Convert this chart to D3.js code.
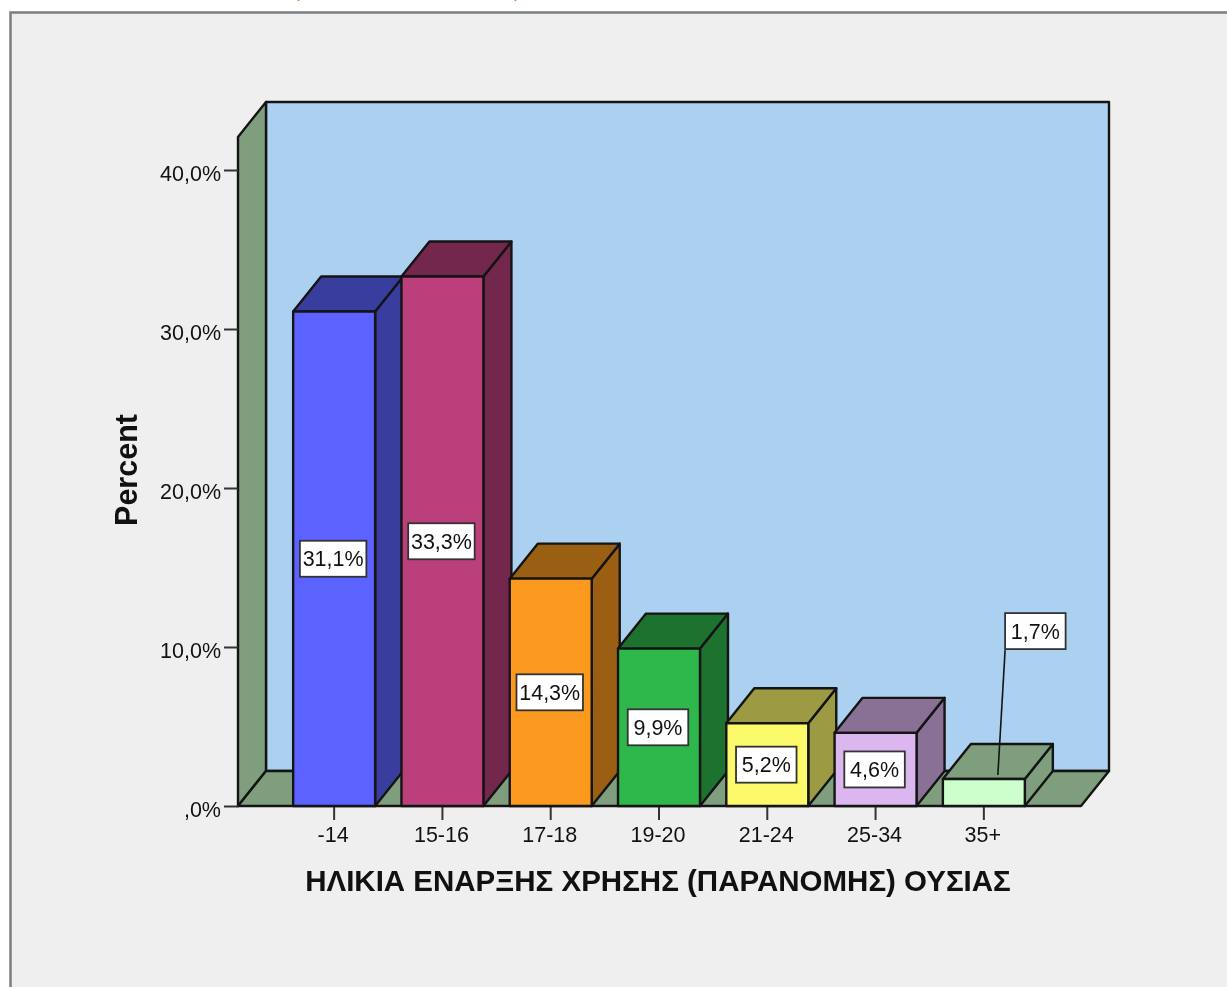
<!DOCTYPE html>
<html>
<head>
<meta charset="utf-8">
<script src="https://cdn.jsdelivr.net/npm/d3@7"></script>
<style>
  html, body { margin: 0; padding: 0; background: #fff; overflow: hidden; }
  svg { filter: blur(0.4px); }
  text { font-family: "Liberation Sans", Arial, sans-serif; fill: #111; }
</style>
</head>
<body>
<div id="chart"></div>
<script>
const categories = ["-14", "15-16", "17-18", "19-20", "21-24", "25-34", "35+"];
const percents = [31.1, 33.3, 14.3, 9.9, 5.2, 4.6, 1.7];
const percentLabels = ["31,1%", "33,3%", "14,3%", "9,9%", "5,2%", "4,6%", "1,7%"];
const frontColors = ["#5c62ff", "#bb3f7b", "#fa991e", "#2eb84c", "#fcf96b", "#dcb6ef", "#ccffcc"];
const yTicks = [0, 10, 20, 30, 40];
const yTickLabels = [",0%", "10,0%", "20,0%", "30,0%", "40,0%"];
const xTitle = "ΗΛΙΚΙΑ ΕΝΑΡΞΗΣ ΧΡΗΣΗΣ (ΠΑΡΑΝΟΜΗΣ) ΟΥΣΙΑΣ";
const yTitle = "Percent";

const width = 1227, height = 987;
// oblique offset of the 3d box
const depthX = 28, depthY = -35;
const axisMax = 42.08;
const lineColor = "#141414";

const x = d3.scaleBand().domain(categories).range([280, 1038]).paddingInner(0.243).paddingOuter(0.1215);
const y = d3.scaleLinear().domain([0, 40]).range([806, 170]);

const svg = d3.select("#chart").append("svg").attr("width", width).attr("height", height);

// shaded faces are the front colour at 62%
function shade(c) {
  const r = d3.rgb(c);
  return d3.rgb(r.r * 0.62, r.g * 0.62, r.b * 0.62).formatHex();
}
function face(g, pts, fill) {
  return g.append("polygon")
    .attr("points", pts.map(p => p.join(",")).join(" "))
    .attr("fill", fill)
    .attr("stroke", lineColor)
    .attr("stroke-width", 2.4)
    .attr("stroke-linejoin", "round");
}

// chart frame, runs off the page on the right and bottom
svg.append("rect").attr("x", 10.5).attr("y", 12.5).attr("width", 1300).attr("height", 1100)
  .attr("fill", "#efefef").attr("stroke", "#7d7d7d").attr("stroke-width", 2.5);

// bit of the title cut off by the top of the image
svg.append("text").attr("x", 293).attr("y", -3).attr("font-size", 21).style("fill", "#f07a28").text("(");
svg.append("text").attr("x", 514).attr("y", -3).attr("font-size", 21).style("fill", "#f07a28").text(")");

const x0 = 238, x1 = 1081;
const walls = svg.append("g");
const wallTop = y(axisMax), base = y(0);
face(walls, [[x0 + depthX, wallTop + depthY], [x1 + depthX, wallTop + depthY], [x1 + depthX, base + depthY], [x0 + depthX, base + depthY]], "#acd0ef");
face(walls, [[x0, wallTop], [x0 + depthX, wallTop + depthY], [x0 + depthX, base + depthY], [x0, base]], shade("#ccffcc"));
face(walls, [[x0, base], [x0 + depthX, base + depthY], [x1 + depthX, base + depthY], [x1, base]], shade("#ccffcc"));

// axes
const yAxis = d3.axisLeft(y).tickValues(yTicks).tickSize(14).tickPadding(3)
  .tickFormat((d, i) => yTickLabels[i]);
const xAxis = d3.axisBottom(x).tickSize(14).tickPadding(7);

const yg = svg.append("g").attr("transform", "translate(" + x0 + ",0)").call(yAxis);
const xg = svg.append("g").attr("transform", "translate(0," + base + ")").call(xAxis);
[yg, xg].forEach(g => {
  g.select(".domain").remove();
  g.selectAll(".tick line").attr("stroke", "#333").attr("stroke-width", 2);
  g.selectAll("text").attr("font-size", 21.5).attr("font-family", null);
});
yg.selectAll("text").attr("dy", "0.5em");
xg.selectAll("text").attr("dx", -1);

// bars, left to right so each front covers the previous side
const bars = svg.append("g");
categories.forEach((c, i) => {
  const l = x(c), r = l + x.bandwidth(), t = y(percents[i]);
  const dark = shade(frontColors[i]);
  const g = bars.append("g");
  face(g, [[r, t], [r + depthX, t + depthY], [r + depthX, base + depthY], [r, base]], dark);
  face(g, [[l, t], [l + depthX, t + depthY], [r + depthX, t + depthY], [r, t]], dark);
  face(g, [[l, t], [r, t], [r, base], [l, base]], frontColors[i]);
});

// value labels, small bar gets a callout
const labels = svg.append("g");
categories.forEach((c, i) => {
  const cx = x(c) + x.bandwidth() / 2;
  const small = percents[i] < 3;
  const lx = small ? cx + 51.5 : cx - 1;
  const ly = small ? y(11) : y(percents[i] / 2);
  const g = labels.append("g");
  const rect = g.append("rect");
  const txt = g.append("text").attr("x", lx).attr("y", ly).attr("dy", "0.36em")
    .attr("text-anchor", "middle").attr("font-size", 21.5).text(percentLabels[i]);
  const w = txt.node().getComputedTextLength() * 0.5 + 36;
  const h = 36;
  rect.attr("x", lx - w / 2).attr("y", ly - h / 2).attr("width", w).attr("height", h)
    .attr("fill", "#fff").attr("stroke", "#333").attr("stroke-width", 1.8);
  if (small) {
    g.append("line")
      .attr("x1", lx - w / 2).attr("y1", ly + h / 2 + 1)
      .attr("x2", cx + 14).attr("y2", y(percents[i]) - 4)
      .attr("stroke", lineColor).attr("stroke-width", 1.6);
  }
});

// axis titles
svg.append("text").attr("x", 658).attr("y", 891).attr("text-anchor", "middle")
  .attr("font-size", 29.5).attr("font-weight", "bold").text(xTitle);
svg.append("text").attr("transform", "translate(137,470) rotate(-90)").attr("text-anchor", "middle")
  .attr("font-size", 30.5).attr("font-weight", "bold").text(yTitle);
</script>
</body>
</html>
